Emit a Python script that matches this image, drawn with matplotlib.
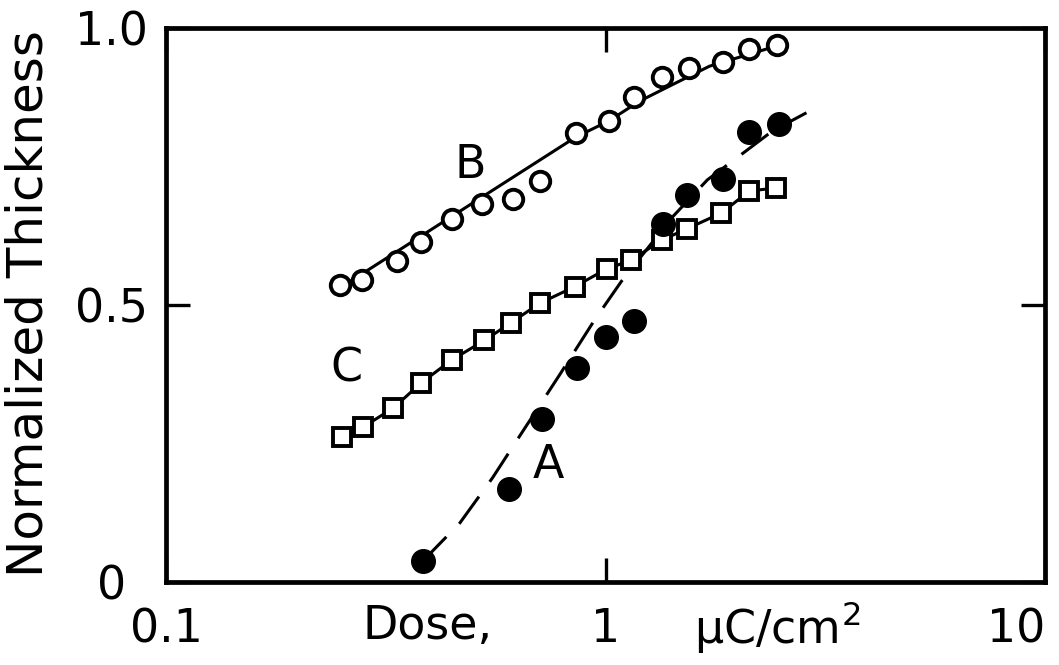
import numpy as np
import matplotlib
matplotlib.use('Agg')
import matplotlib.pyplot as plt

# ==========================================
# Data (dose in uC/cm^2)
# ==========================================
dose_b = [0.249, 0.279, 0.335, 0.380, 0.447, 0.523, 0.615, 0.708,
          0.855, 1.016, 1.158, 1.341, 1.544, 1.845, 2.125, 2.46]
thick_b = [0.536, 0.546, 0.580, 0.613, 0.656, 0.682, 0.691, 0.723,
           0.810, 0.833, 0.875, 0.912, 0.927, 0.939, 0.962, 0.969]

# fitted curve drawn through B
fit_b_x = [0.249, 0.855, 1.016, 1.195, 1.413, 1.723, 2.46]
fit_b_y = [0.531, 0.803, 0.832, 0.868, 0.897, 0.931, 0.968]

dose_c = [0.252, 0.281, 0.329, 0.380, 0.447, 0.530, 0.609, 0.708,
          0.850, 1.005, 1.145, 1.341, 1.535, 1.835, 2.125, 2.44]
thick_c = [0.262, 0.280, 0.314, 0.359, 0.401, 0.436, 0.468, 0.503,
           0.533, 0.565, 0.581, 0.617, 0.638, 0.666, 0.706, 0.711]

dose_a = [0.384, 0.602, 0.715, 0.859, 1.0, 1.158, 1.348, 1.528,
          1.845, 2.125, 2.485]
thick_a = [0.038, 0.167, 0.295, 0.386, 0.443, 0.472, 0.647, 0.699,
           0.727, 0.813, 0.827]

# dashed guide curve through A
fit_a_x = [0.384, 0.466, 0.553, 0.631, 0.786, 0.944, 1.087, 1.42,
           1.705, 2.07, 2.396, 2.864]
fit_a_y = [0.038, 0.1065, 0.188, 0.258, 0.374, 0.473, 0.543, 0.659,
           0.726, 0.776, 0.814, 0.847]

xticks = [0.1, 1, 10]
xtick_labels = ['0.1', '1', '10']
yticks = [0, 0.5, 1.0]
ytick_labels = ['0', '0.5', '1.0']

# ==========================================
# Plot
# ==========================================
plt.rcParams.update({'font.family': 'DejaVu Sans', 'font.size': 33})
fig = plt.figure(figsize=(10.59, 6.65), dpi=100)
ax = fig.add_axes([0.1568, 0.1248, 0.8301, 0.8331])

ax.set_xscale('log')
ax.set_xlim(0.1, 10)
ax.set_ylim(0, 1.0)

lw = 2.2
ax.plot(fit_b_x, fit_b_y, color='black', lw=lw, zorder=2)
ax.plot(dose_b, thick_b, linestyle='none', marker='o', ms=14, mew=2.8,
        mfc='white', mec='black', zorder=4)

ax.plot(dose_c, thick_c, color='black', lw=lw, marker='s', ms=13.5, mew=2.8,
        mfc='white', mec='black', zorder=3)

ax.plot(fit_a_x, fit_a_y, color='black', lw=lw, dashes=(11, 6), zorder=2)
ax.plot(dose_a, thick_a, linestyle='none', marker='o', ms=17,
        mfc='black', mec='black', zorder=5)

ax.text(0.493, 0.751, 'B', ha='center', va='center')
ax.text(0.2576, 0.3845, 'C', ha='center', va='center')
ax.text(0.742, 0.211, 'A', ha='center', va='center')

# axes styling
for sp in ax.spines.values():
    sp.set_linewidth(3.4)

ax.set_xticks(xticks)
ax.set_xticklabels(xtick_labels)
ax.xaxis.set_minor_locator(matplotlib.ticker.NullLocator())
ax.set_yticks(yticks)
ax.set_yticklabels(ytick_labels)
for lab in ax.get_yticklabels():
    lab.set_horizontalalignment('center')
ax.get_xticklabels()[-1].set_horizontalalignment('right')

ax.tick_params(axis='x', which='major', direction='in', length=17, width=2.4,
               top=True, pad=18)
ax.tick_params(axis='y', which='major', direction='in', length=17, width=2.4,
               right=True, pad=39)

# split x label around the "1" tick
ax.text(0.297, -0.081, 'Dose,', transform=ax.transAxes, ha='center', va='center')
ax.text(0.695, -0.081, r'$\mathregular{\mu}$C/cm$^\mathregular{2}$',
        transform=ax.transAxes, ha='center', va='center')

ax.set_ylabel('Normalized Thickness', fontsize=36)
ax.yaxis.set_label_coords(-0.1297, 0.5036)

plt.savefig('out.png', dpi=100)
